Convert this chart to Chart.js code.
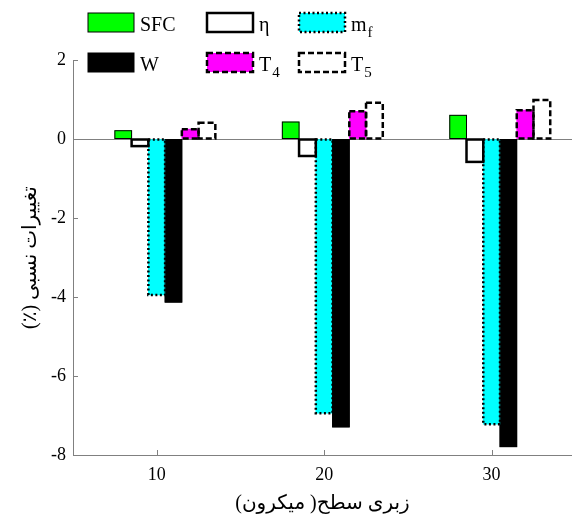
<!DOCTYPE html>
<html>
<head>
<meta charset="utf-8">
<script src="https://cdn.jsdelivr.net/npm/chart.js@4.4.1/dist/chart.umd.min.js"></script>
<style>
  html, body { margin: 0; padding: 0; background: #fff; }
  #wrap { width: 572px; height: 518px; }
</style>
</head>
<body>
<div id="wrap"><canvas id="chart" width="572" height="518"></canvas></div>
<script>
// --- data ---
const roughness = [10, 20, 30];           // surface roughness (micron)
const sfc  = [0.21, 0.43, 0.60];
const eta  = [-0.18, -0.43, -0.58];
const mf   = [-3.95, -6.94, -7.22];
const work = [-4.13, -7.29, -7.79];
const t4   = [0.25, 0.70, 0.73];
const t5   = [0.41, 0.92, 0.99];
const xTickValues = [10, 20, 30];
const yTickValues = [2, 0, -2, -4, -6, -8];

const SERIF = "'Liberation Serif', 'Times New Roman', 'DejaVu Sans', serif";
const AXIS_GREY = '#808080';

Chart.defaults.font.family = SERIF;
Chart.defaults.color = '#000';

// each series sits one unit apart around the roughness value
function points(values, shift) {
  return values.map((v, i) => ({ x: roughness[i] + shift, y: v }));
}

const series = [
  { label: 'SFC', values: sfc,  shift: -2, fill: '#00ff00', line: 1,   dash: [] },
  { label: 'η',   values: eta,  shift: -1, fill: '#ffffff', line: 2.5, dash: [] },
  { label: 'mf',  values: mf,   shift: 0,  fill: '#00ffff', line: 2.5, dash: [2, 2.5] },
  { label: 'W',   values: work, shift: 1,  fill: '#000000', line: 1,   dash: [] },
  { label: 'T4',  values: t4,   shift: 2,  fill: '#ff00ff', line: 2.5, dash: [6, 3] },
  { label: 'T5',  values: t5,   shift: 3,  fill: '#ffffff', line: 2.5, dash: [6, 3] }
];

// bar outlines (dotted / dashed) drawn over the bar elements
const outlinePlugin = {
  id: 'outline',
  afterDatasetsDraw(chart) {
    const ctx = chart.ctx;
    chart.data.datasets.forEach((ds, i) => {
      chart.getDatasetMeta(i).data.forEach(bar => {
        const p = bar.getProps(['x', 'y', 'base', 'width'], true);
        ctx.save();
        ctx.strokeStyle = '#000';
        ctx.lineWidth = ds.outlineWidth;
        ctx.setLineDash(ds.outlineDash);
        ctx.strokeRect(p.x - p.width / 2, Math.min(p.y, p.base), p.width, Math.abs(p.base - p.y));
        ctx.restore();
      });
    });
  }
};

// inward tick marks like the original figure
const innerTicks = {
  id: 'innerTicks',
  afterDraw(chart) {
    const ctx = chart.ctx;
    const { x, y } = chart.scales;
    ctx.save();
    ctx.strokeStyle = AXIS_GREY;
    ctx.lineWidth = 1;
    ctx.beginPath();
    yTickValues.forEach(v => {
      const py = Math.round(y.getPixelForValue(v)) + 0.5;
      ctx.moveTo(x.left, py);
      ctx.lineTo(x.left + 5, py);
    });
    xTickValues.forEach(v => {
      const px = Math.round(x.getPixelForValue(v)) + 0.5;
      ctx.moveTo(px, y.bottom);
      ctx.lineTo(px, y.bottom - 5);
    });
    ctx.stroke();
    ctx.restore();
  }
};

// two-row legend with subscripts, drawn on top
const legendPlugin = {
  id: 'customLegend',
  afterDraw(chart) {
    const ctx = chart.ctx;
    const cols = [88, 207, 299];
    const rows = [13, 53];
    const texts = [['SFC', ''], ['η', ''], ['m', 'f'], ['W', ''], ['T', '4'], ['T', '5']];
    ctx.save();
    chart.data.datasets.forEach((ds, k) => {
      const bx = cols[k % 3], by = rows[Math.floor(k / 3)];
      const bw = 46, bh = 19;
      ctx.fillStyle = ds.backgroundColor;
      ctx.fillRect(bx, by, bw, bh);
      ctx.strokeStyle = '#000';
      ctx.lineWidth = ds.outlineWidth;
      ctx.setLineDash(ds.outlineDash);
      ctx.strokeRect(bx, by, bw, bh);
      ctx.setLineDash([]);
      ctx.fillStyle = '#000';
      ctx.textBaseline = 'alphabetic';
      ctx.textAlign = 'left';
      ctx.font = '20px ' + SERIF;
      const [main, sub] = texts[k];
      const tx = bx + bw + 6, ty = by + bh - 1;
      ctx.fillText(main, tx, ty);
      if (sub) {
        const w = ctx.measureText(main).width;
        ctx.font = '15px ' + SERIF;
        ctx.fillText(sub, tx + w + 1, ty + 6);
      }
    });
    ctx.restore();
  }
};

new Chart(document.getElementById('chart'), {
  type: 'bar',
  data: {
    datasets: series.map(s => ({
      label: s.label,
      data: points(s.values, s.shift),
      backgroundColor: s.fill,
      borderWidth: 0,
      outlineWidth: s.line,
      outlineDash: s.dash,
      barPercentage: 1,
      categoryPercentage: 1,
      grouped: false
    }))
  },
  options: {
    responsive: false,
    animation: false,
    layout: { padding: { top: 60, right: 0, left: 0, bottom: 0 } },
    plugins: { legend: { display: false }, tooltip: { enabled: false } },
    scales: {
      x: {
        type: 'linear',
        offset: false,
        min: 5,
        max: 34.8,
        afterBuildTicks: scale => { scale.ticks = xTickValues.map(v => ({ value: v })); },
        afterFit: scale => { scale.height = 63; },
        grid: { drawOnChartArea: false, drawTicks: false, offset: false },
        border: { color: AXIS_GREY, width: 1 },
        ticks: { color: '#000', padding: 9, maxRotation: 0, font: { family: SERIF, size: 18 } },
        title: {
          display: true,
          text: '\u202Bزبری سطح( میکرون)\u202C',
          color: '#000',
          padding: { top: 0, bottom: 2 },
          font: { family: SERIF, size: 20 }
        }
      },
      y: {
        min: -8,
        max: 2,
        afterBuildTicks: scale => { scale.ticks = yTickValues.map(v => ({ value: v })); },
        afterFit: scale => { scale.width = 73; },
        grid: {
          drawTicks: false,
          color: c => (c.tick && c.tick.value === 0 ? AXIS_GREY : 'rgba(0,0,0,0)')
        },
        border: { color: AXIS_GREY, width: 1 },
        ticks: { color: '#000', padding: 7, font: { family: SERIF, size: 18 } },
        title: {
          display: true,
          text: '\u202Bتغییرات نسبی (٪)\u202C',
          color: '#000',
          padding: { top: 19, bottom: 0 },
          font: { family: SERIF, size: 20 }
        }
      }
    }
  },
  plugins: [outlinePlugin, innerTicks, legendPlugin]
});
</script>
</body>
</html>
